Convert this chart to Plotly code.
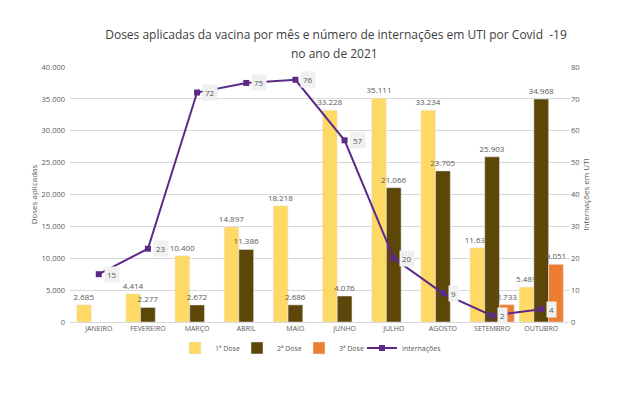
import plotly.graph_objects as go

meses = ["JANEIRO", "FEVEREIRO", "MARÇO", "ABRIL", "MAIO", "JUNHO", "JULHO", "AGOSTO", "SETEMBRO", "OUTUBRO"]
dose1 = [2685, 4414, 10400, 14897, 18218, 33228, 35111, 33234, 11636, 5489]
dose2 = [None, 2277, 2672, 11386, 2686, 4076, 21066, 23705, 25903, 34968]
dose3 = [None, None, None, None, None, None, None, None, 2733, 9051]
internacoes = [15, 23, 72, 75, 76, 57, 20, 9, 2, 4]

titulo1 = "Doses aplicadas da vacina por mês e número de internações em UTI por Covid  -19"
titulo2 = "no ano de 2021"

FONT = "Open Sans"
GRAY = "#595959"

fig = go.Figure()
for name, vals, color, leg in [("1ª Dose", dose1, "#FFD966", "legend"),
                               ("2ª Dose", dose2, "#5C4709", "legend2"),
                               ("3ª Dose", dose3, "#ED7D31", "legend3")]:
    fig.add_trace(go.Bar(
        x=meses, y=vals, name=name, marker_color=color,
        texttemplate="%{y:,d}", textposition="outside",
        textfont=dict(size=8, color=GRAY, family=FONT),
        constraintext="none",
        cliponaxis=False,
        legend=leg, showlegend=True,
    ))

fig.add_trace(go.Scatter(
    x=meses, y=internacoes, name="Internações", yaxis="y2",
    mode="lines+markers",
    line=dict(color="#5B2A86", width=2),
    marker=dict(symbol="square", size=6, color="#5B2A86"),
    legend="legend4", showlegend=True,
))

for m, v in zip(meses, internacoes):
    fig.add_annotation(x=m, y=v, xref="x", yref="y2", text=str(v),
                       showarrow=False, xanchor="left", xshift=5,
                       bgcolor="#F0F0F0", borderpad=2,
                       font=dict(size=8, color=GRAY, family=FONT))

fig.add_annotation(text=titulo2, xref="paper", yref="paper", x=0.528, y=1.051,
                   xanchor="center", yanchor="middle", showarrow=False,
                   font=dict(size=12, color="#404040", family=FONT))

leg_common = dict(orientation="h", xanchor="left", y=-0.045, yanchor="top",
                  itemwidth=30, bgcolor="rgba(0,0,0,0)", visible=True,
                  font=dict(size=7, color=GRAY))

fig.update_layout(
    width=632, height=386,
    showlegend=True,
    paper_bgcolor="white", plot_bgcolor="white",
    separators=",.",
    font=dict(family=FONT, color=GRAY, size=8),
    title=dict(text=titulo1, xref="container", yref="container",
               x=0.519, xanchor="center", y=0.93, yanchor="middle",
               font=dict(size=12, color="#404040", family=FONT)),
    margin=dict(l=62, r=70, t=59, b=72),
    barmode="group", bargap=0.1, bargroupgap=0,
    xaxis=dict(tickfont=dict(size=7, color=GRAY), showline=True, linecolor="#D9D9D9",
               ticks=""),
    yaxis=dict(range=[0, 40000], dtick=5000, tickformat=",d",
               gridcolor="#D9D9D9", zeroline=False, ticklabelstandoff=4,
               tickfont=dict(size=7.5, color=GRAY),
               title=dict(text="Doses aplicadas", font=dict(size=8, color=GRAY), standoff=2)),
    yaxis2=dict(range=[0, 80], dtick=10, overlaying="y", side="right",
                showgrid=False, zeroline=False,
                tickfont=dict(size=7.5, color=GRAY),
                title=dict(text="Internações em UTI", font=dict(size=8, color=GRAY), standoff=2)),
    legend=dict(x=0.21, **leg_common),
    legend2=dict(x=0.334, **leg_common),
    legend3=dict(x=0.458, **leg_common),
    legend4=dict(x=0.584, **leg_common),
)

fig.write_html("out.html")
